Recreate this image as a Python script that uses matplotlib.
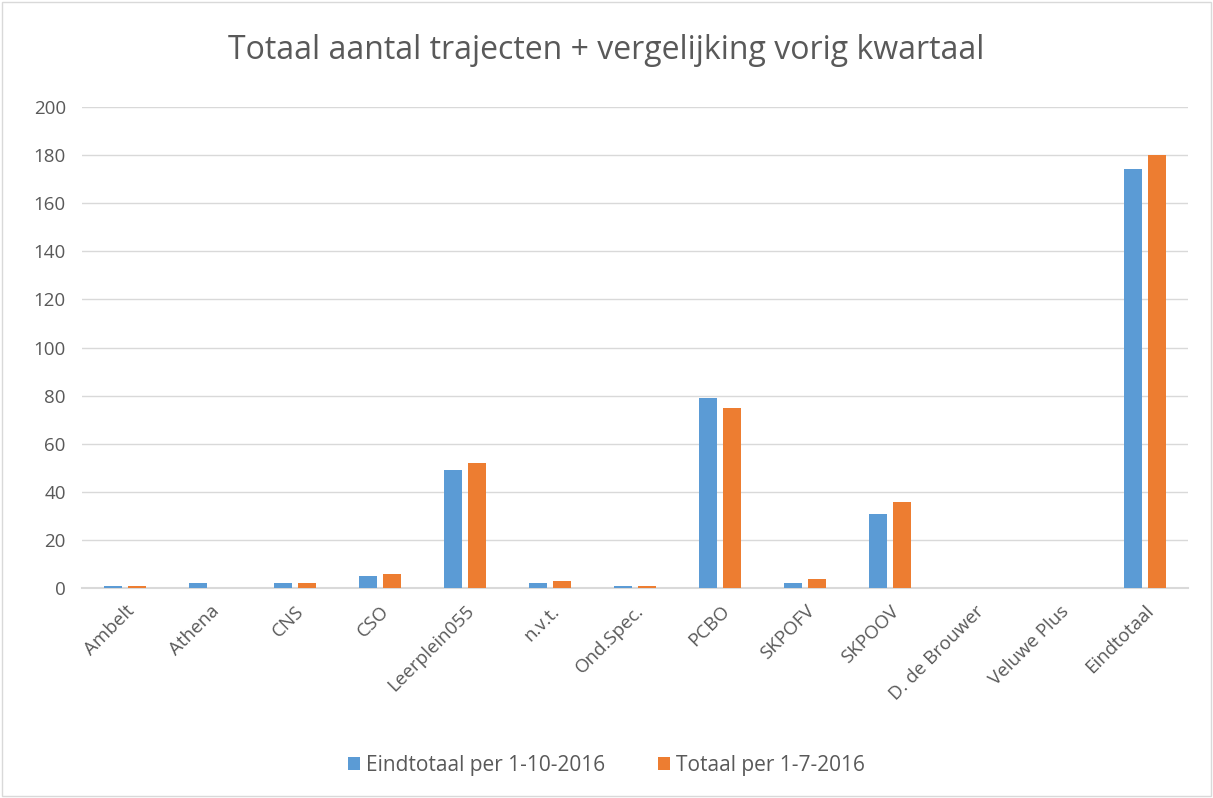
import matplotlib.pyplot as plt
import numpy as np

categories = ["Ambelt", "Athena", "CNS", "CSO", "Leerplein055", "n.v.t.", "Ond.Spec.",
              "PCBO", "SKPOFV", "SKPOOV", "D. de Brouwer", "Veluwe Plus", "Eindtotaal"]
eindtotaal_okt = [1, 2, 2, 5, 49, 2, 1, 79, 2, 31, 0, 0, 174]
totaal_jul = [1, 0, 2, 6, 52, 3, 1, 75, 4, 36, 0, 0, 180]
series_labels = ["Eindtotaal per 1-10-2016", "Totaal per 1-7-2016"]

BLUE = "#5b9bd5"
ORANGE = "#ed7d31"
GREY = "#595959"

plt.rcParams["font.family"] = ["Open Sans", "DejaVu Sans"]

fig = plt.figure(figsize=(12.13, 7.98), dpi=100)
ax = fig.add_axes([0.068, 0.263, 0.911, 0.603])

x = np.arange(len(categories))
w = 0.22
ax.bar(x - 0.14, eindtotaal_okt, w, color=BLUE, label=series_labels[0], zorder=3)
ax.bar(x + 0.14, totaal_jul, w, color=ORANGE, label=series_labels[1], zorder=3)

ax.set_xlim(-0.5, len(categories) - 0.5)
ax.set_ylim(0, 200)
ax.set_yticks(range(0, 201, 20))
ax.grid(axis="y", color="#d9d9d9", linewidth=1, zorder=0)
for s in ["top", "right", "left"]:
    ax.spines[s].set_visible(False)
ax.spines["bottom"].set_color("#d9d9d9")
ax.spines["bottom"].set_linewidth(1.5)
ax.tick_params(axis="both", length=0, colors=GREY, labelsize=13.5)
ax.tick_params(axis="y", pad=12)
ax.set_xticks(x)
ax.set_xticklabels(categories, rotation=45, ha="right", rotation_mode="anchor")
ax.tick_params(axis="x", pad=10)

fig.text(0.5, 0.937, "Totaal aantal trajecten + vergelijking vorig kwartaal",
         ha="center", va="center", fontsize=23, color=GREY)

fig.legend(loc="center", bbox_to_anchor=(0.5, 0.041), ncol=2, frameon=False,
           fontsize=15, labelcolor=GREY, handlelength=0.6, handleheight=0.6,
           columnspacing=2.5, handletextpad=0.3)

border = plt.Rectangle((0.002, 0.002), 0.996, 0.996, transform=fig.transFigure,
                       fill=False, edgecolor="#d9d9d9", linewidth=1)
fig.patches.append(border)

fig.savefig("out.png", dpi=100)
